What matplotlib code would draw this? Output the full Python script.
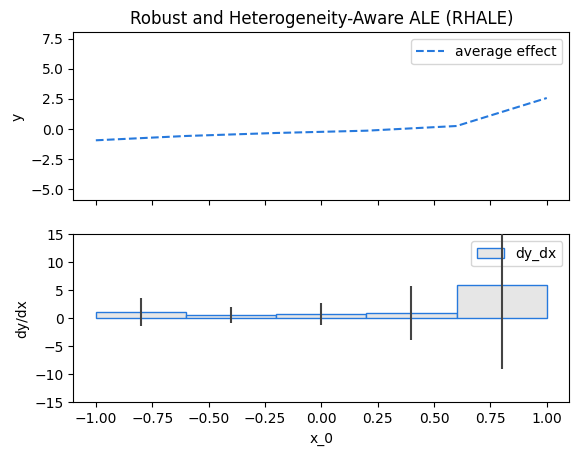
import numpy as np
import matplotlib
matplotlib.use("Agg")
import matplotlib.pyplot as plt

# bin edges and values
edges = [-1.0, -0.6, -0.2, 0.2, 0.6, 1.0]
ale_y = [-0.94, -0.58, -0.33, -0.14, 0.25, 2.58]
dy_dx = [1.07, 0.53, 0.75, 0.9, 6.0]
dy_dx_std = [2.5, 1.43, 1.96, 4.8, 15.05]

blue = "#2679dd"

fig, (ax1, ax2) = plt.subplots(2, 1, sharex=True, figsize=(5.78, 4.55), dpi=100)
fig.subplots_adjust(left=0.1268, right=0.985, top=0.929, bottom=0.1158, hspace=0.2)

ax1.plot(edges, ale_y, "--", color=blue, label="average effect")
ax1.set_ylim(-5.95, 8.05)
ax1.set_ylabel("y")
ax1.set_title("Robust and Heterogeneity-Aware ALE (RHALE)")
ax1.legend(loc="upper right")

left = np.array(edges[:-1])
width = np.diff(edges)
centers = left + width / 2
ax2.bar(left, dy_dx, width=width, align="edge", facecolor=(0.9, 0.9, 0.9),
        edgecolor=blue, linewidth=1, label="dy_dx")
ax2.errorbar(centers, dy_dx, yerr=dy_dx_std, fmt="none", ecolor="#444444",
             elinewidth=1.5, zorder=6)
ax2.set_ylim(-15, 15)
ax2.set_ylabel("dy/dx")
ax2.set_xlabel("x_0")
ax2.legend(loc="upper right")

fig.savefig("out.png", dpi=100)
